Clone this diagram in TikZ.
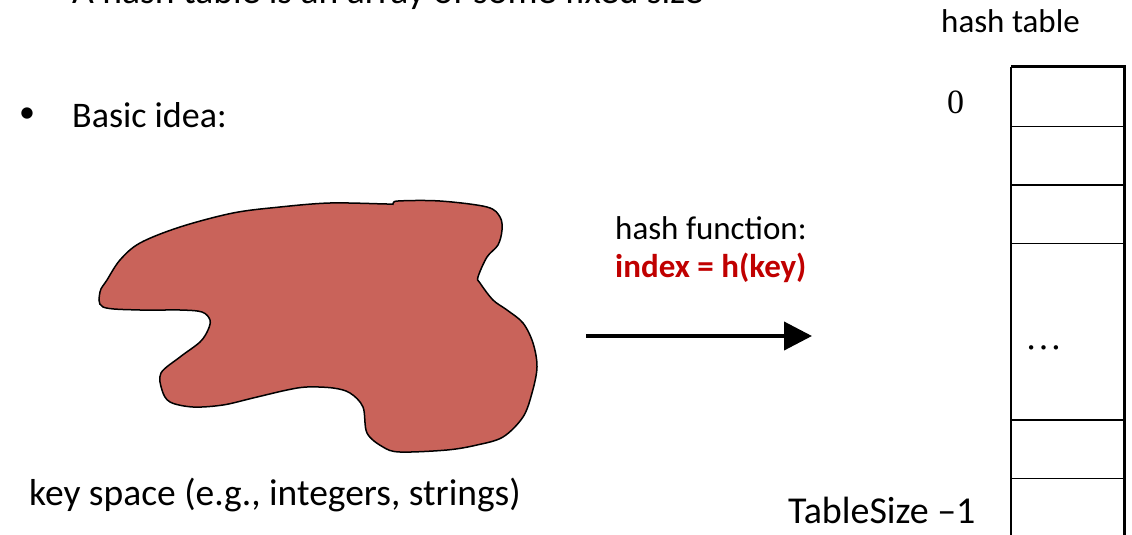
\documentclass[tikz,border=0pt]{standalone}
\usepackage{fontspec}
\setmainfont{Carlito}
\newfontfamily\tnr{Liberation Serif}
\usetikzlibrary{arrows.meta}
\definecolor{blobred}{RGB}{201,99,90}
\definecolor{keyred}{RGB}{192,0,0}
\tikzset{
  big/.style={inner sep=0pt, font=\fontsize{36}{40}\selectfont},
  mid/.style={inner sep=0pt, font=\fontsize{33}{38}\selectfont},
  thin/.style={line width=1.5pt},
  thick3/.style={line width=3pt},
}
\begin{document}
\begin{tikzpicture}[x=1pt,y=-1pt]
\useasboundingbox (0,0) rectangle (1132,535);
\clip (0,0) rectangle (1132,535);
% top cut-off line
\node[inner sep=0pt, anchor=base west, font=\fontsize{37.6}{42}\selectfont] (title) at (72,3.5) {A hash table is an array of some fixed size};
% bullet
\node[inner sep=0pt, anchor=center, font=\fontsize{32}{36}\selectfont] (bullet) at (27,115) {•};
\node[big, anchor=base west] (basic) at (72,127) {Basic idea:};
% blob
\draw[thin, fill=blobred] plot[smooth cycle, tension=0.55] coordinates {
 (393,204) (398,201) (440,201) (487,207) (500,217) (502,230) (498,245) (487,257)
 (478,277) (480,283) (493,300) (507,310) (523,323) (533,343) (537,367) (532,393)
 (523,417) (503,437) (477,445) (447,450) (400,452) (383,447) (367,433) (363,407)
 (350,393) (333,388) (307,387) (287,390) (253,398) (223,405) (193,407) (170,402)
 (162,390) (161,373) (180,357) (200,342) (208,330) (210,320) (202,312) (180,310)
 (140,310) (103,307) (100,292) (107,280) (120,260) (140,243) (180,227) (233,213)
 (280,207) (330,203) (387,204)};
\node[inner sep=0pt, anchor=base west, font=\fontsize{37.5}{41}\selectfont] (keyspace) at (29,505) {key space (e.g., integers, strings)};
% hash function
\node[mid, anchor=base west] (hf) at (615,239) {hash function:};
\node[mid, anchor=base west, text=keyred, font=\fontsize{33}{38}\selectfont\bfseries] (idx) at (615,277) {index = h(key)};
\coordinate (arrS) at (586,336);
\coordinate (arrE) at (812,336);
\draw[line width=4pt, -{Triangle[length=28pt,width=28pt]}] (arrS) -- (arrE);
% hash table
\node[mid, anchor=base west] (ht) at (941,33) {hash table};
\draw[thin] (1011,67) -- (1011,545);
\foreach \yy in {126.5,185,243.5,420,478.5} \draw[thin] (1011,\yy) -- (1124,\yy);
\draw[thick3] (1011,67) -- (1124,67) -- (1124,545);
\node[inner sep=0pt, anchor=base, font=\fontsize{34}{38}\selectfont\tnr] (zero) at (955.5,113) {0};
\node[inner sep=0pt, anchor=base, font=\fontsize{37}{40}\selectfont\tnr] (dots) at (1043.5,349) {…};
\node[inner sep=0pt, anchor=base west, font=\fontsize{38}{42}\selectfont] (last) at (788,523) {TableSize –1};
\end{tikzpicture}
\end{document}
